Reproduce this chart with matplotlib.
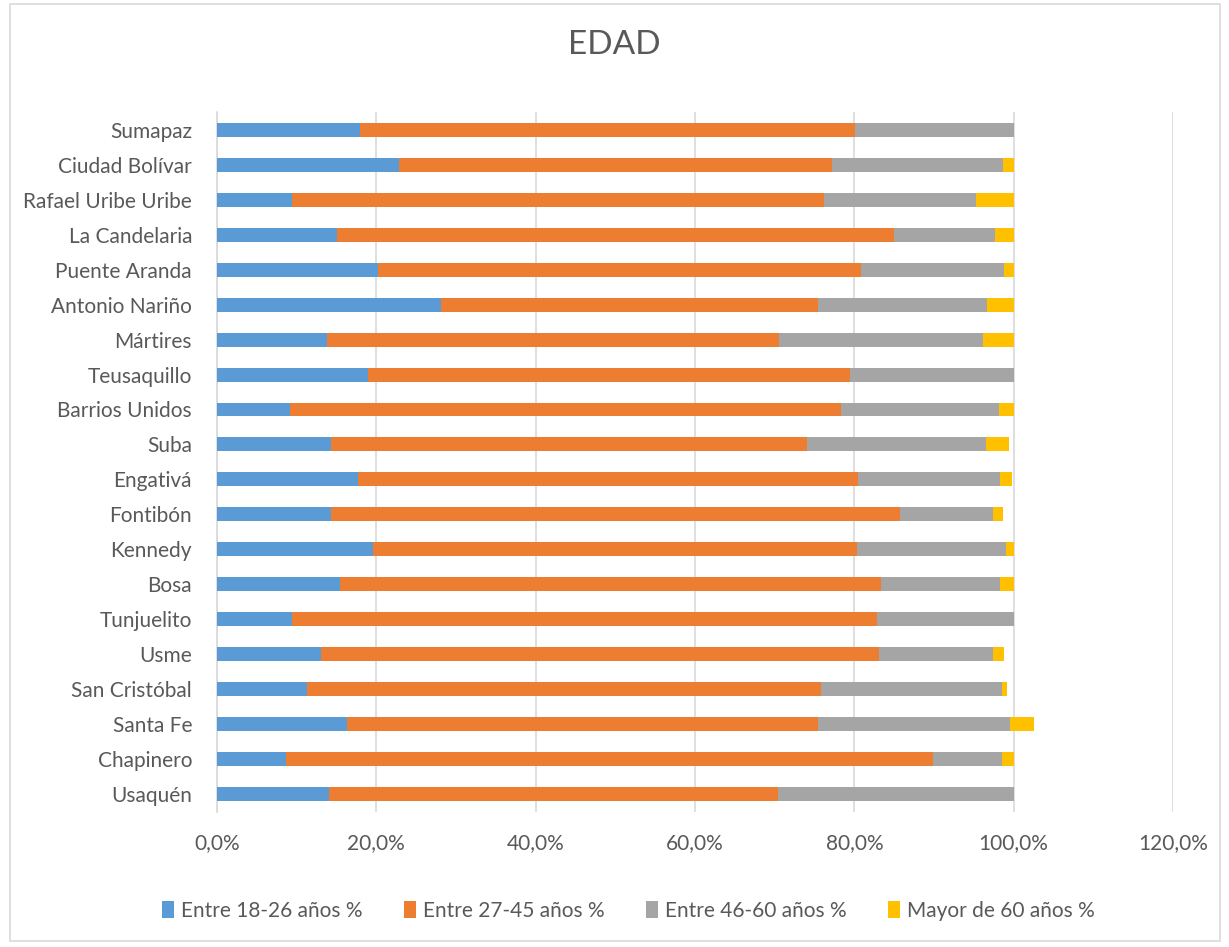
import matplotlib.pyplot as plt
from matplotlib.patches import Rectangle
import numpy as np

# Localidades (de abajo hacia arriba, como en el gráfico)
localidades = ["Usaquén", "Chapinero", "Santa Fe", "San Cristóbal", "Usme",
               "Tunjuelito", "Bosa", "Kennedy", "Fontibón", "Engativá",
               "Suba", "Barrios Unidos", "Teusaquillo", "Mártires",
               "Antonio Nariño", "Puente Aranda", "La Candelaria",
               "Rafael Uribe Uribe", "Ciudad Bolívar", "Sumapaz"]

edad_18_26 = [14.1, 8.6, 16.3, 11.3, 13.0, 9.4, 15.4, 19.6, 14.3, 17.7,
              14.3, 9.2, 18.9, 13.8, 28.1, 20.2, 15.0, 9.4, 22.9, 17.9]
edad_27_45 = [56.3, 81.3, 59.2, 64.5, 70.1, 73.5, 68.0, 60.7, 71.4, 62.7,
              59.8, 69.1, 60.5, 56.8, 47.3, 60.7, 70.0, 66.8, 54.3, 62.2]
edad_46_60 = [29.6, 8.6, 24.1, 22.7, 14.3, 17.1, 14.9, 18.7, 11.7, 17.9,
              22.4, 19.9, 20.6, 25.6, 21.3, 17.9, 12.6, 19.1, 21.5, 19.9]
edad_60_mas = [0.0, 1.5, 3.0, 0.7, 1.4, 0.0, 1.7, 1.0, 1.3, 1.5,
               2.9, 1.8, 0.0, 3.8, 3.3, 1.2, 2.4, 4.7, 1.3, 0.0]

series = [edad_18_26, edad_27_45, edad_46_60, edad_60_mas]
nombres = ["Entre 18-26 años %", "Entre 27-45 años %",
           "Entre 46-60 años %", "Mayor de 60 años %"]
colores = ["#5B9BD5", "#ED7D31", "#A5A5A5", "#FFC000"]
xticks = [0, 20, 40, 60, 80, 100, 120]

plt.rcParams['font.family'] = ['Lato', 'DejaVu Sans']
gris = "#595959"

fig = plt.figure(figsize=(12.29, 9.47), dpi=100)
ax = fig.add_axes([0.1766, 0.1426, 0.7778, 0.7391])

# borde del área del gráfico
fig.patches.append(Rectangle((0.008, 0.006), 0.985, 0.99, transform=fig.transFigure,
                             fill=False, edgecolor="#D9D9D9", linewidth=1.2))

y = np.arange(len(localidades))
izq = np.zeros(len(localidades))
for vals, nombre, color in zip(series, nombres, colores):
    vals = np.array(vals)
    ax.barh(y, vals, left=izq, height=0.4, color=color, label=nombre, zorder=3)
    izq += vals

ax.set_xlim(0, 120)
ax.set_ylim(-0.5, len(localidades) - 0.5)
ax.set_xticks(xticks)
ax.set_xticklabels([f"{v:.1f}%".replace(".", ",") for v in xticks])
ax.set_yticks(y)
ax.set_yticklabels(localidades)
ax.grid(axis="x", color="#D9D9D9", linewidth=1.2, zorder=0)
for s in ["top", "right", "bottom"]:
    ax.spines[s].set_visible(False)
ax.spines["left"].set_color("#D9D9D9")
ax.spines["left"].set_linewidth(1.2)
ax.tick_params(axis="both", length=0, colors=gris, labelsize=15)
ax.tick_params(axis="x", pad=15)
ax.tick_params(axis="y", pad=18)

fig.suptitle("EDAD", y=0.968, fontsize=24, color=gris)

ax.legend(loc="upper center", bbox_to_anchor=(0.43, -0.1), ncol=4, frameon=False,
          fontsize=15, labelcolor=gris, handlelength=0.6, handleheight=0.9,
          handletextpad=0.3, columnspacing=2.0)

fig.savefig("out.png", dpi=100)
